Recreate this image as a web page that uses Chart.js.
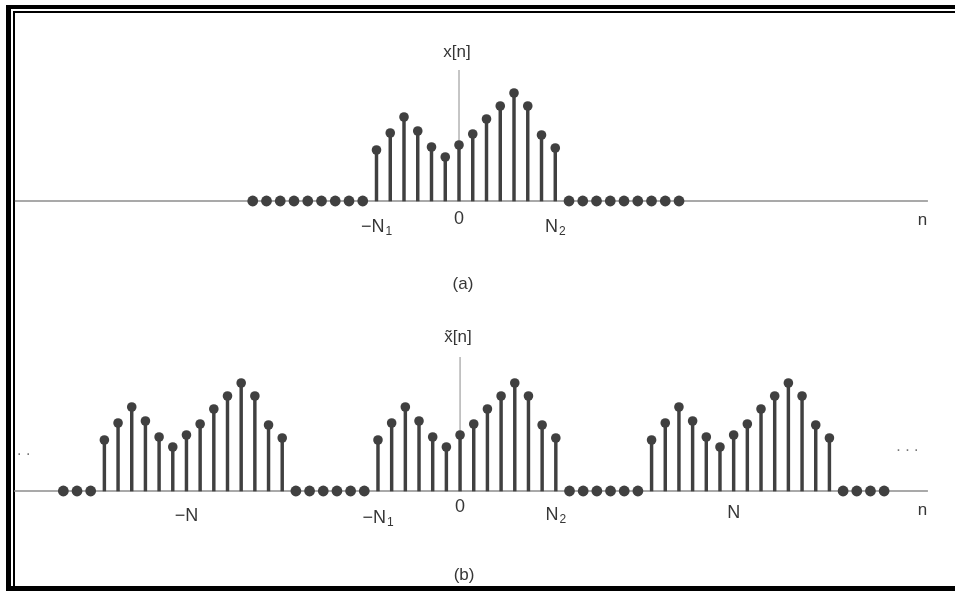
<!DOCTYPE html>
<html>
<head>
<meta charset="utf-8">
<script src="https://cdn.jsdelivr.net/npm/chart.js@4.4.1/dist/chart.umd.min.js"></script>
<style>
  html, body { margin: 0; padding: 0; background: #fff; overflow: hidden; }
  #page { position: relative; width: 955px; height: 593px; overflow: hidden; background: #fff; }
  #outer { position: absolute; left: 6px; top: 5px; width: 1000px; height: 586px; border-left: 5px solid #000; border-top: 4px solid #000; border-bottom: 5px solid #000; box-sizing: border-box; }
  #inner { position: absolute; left: 13px; top: 11px; width: 1000px; height: 578px; border-left: 2px solid #000; border-top: 2px solid #000; border-bottom: 2px solid #000; box-sizing: border-box; }
  canvas { position: absolute; left: 0; }
</style>
</head>
<body>
<div id="page">
  <div id="outer"></div>
  <div id="inner"></div>
  <canvas id="chartA" width="955" height="296" style="top:0px"></canvas>
  <canvas id="chartB" width="955" height="297" style="top:296px"></canvas>
</div>
<script>
// x[n] is nonzero from -N1 to N2
const N1 = 6;
const N2 = 7;
const period = 20;
const xValues = [5.1, 6.8, 8.4, 7.0, 5.4, 4.4, 5.6, 6.7, 8.2, 9.5, 10.8, 9.5, 6.6, 5.3];

// zero samples drawn as dots on the axis
const zerosA = [-15, -14, -13, -12, -11, -10, -9, -8, -7, 8, 9, 10, 11, 12, 13, 14, 15, 16];
const zerosB = [-29, -28, -27, -12, -11, -10, -9, -8, -7, 8, 9, 10, 11, 12, 13, 28, 29, 30, 31];
const copiesB = [-period, 0, period];

// tick labels (main text, subscript)
const ticksA = [-N1, 0, N2];
const tickTextA = ['\u2212N', '0', 'N'];
const tickSubA = ['1', '', '2'];
const ticksB = [-period, -N1, 0, N2, period];
const tickTextB = ['\u2212N', '\u2212N', '0', 'N', 'N'];
const tickSubB = ['', '1', '', '2', ''];

const stemColor = '#404040';
const axisColor = '#8c8c8c';
const textColor = '#363636';
const font = '"Liberation Sans", Arial, sans-serif';

function stemPoints(shifts){
    const pts = [];
    shifts.forEach(s => {
        xValues.forEach((v, i) => pts.push({x: -N1 + i + s, y: v}));
    });
    return pts;
}

const labelPlugin = {
    id: 'labels',
    afterDatasetsDraw(chart, args, o){
        const ctx = chart.ctx;
        const xs = chart.scales.x, ys = chart.scales.y;
        const y0 = ys.getPixelForValue(0);
        ctx.save();
        ctx.fillStyle = textColor;
        ctx.textBaseline = 'alphabetic';
        o.ticks.forEach((n, i) => {
            const main = o.text[i], sub = o.sub[i];
            ctx.font = '18px ' + font;
            const w1 = ctx.measureText(main).width;
            ctx.font = '12px ' + font;
            const w2 = sub ? ctx.measureText(sub).width + 1 : 0;
            const left = xs.getPixelForValue(n) - (w1 + w2) / 2;
            const by = y0 + o.drop[i];
            ctx.font = '18px ' + font;
            ctx.textAlign = 'left';
            ctx.fillText(main, left, by);
            if(sub){
                ctx.font = '12px ' + font;
                ctx.fillText(sub, left + w1 + 1, by + 3);
            }
        });
        // axis names and caption
        ctx.textAlign = 'center';
        ctx.font = '17px ' + font;
        ctx.fillText(o.yName, xs.getPixelForValue(0) - 2, ys.getPixelForValue(o.axisTop) - o.nameGap);
        ctx.fillText('n', xs.getPixelForValue(o.nAt), y0 + 24);
        ctx.fillText(o.caption, xs.getPixelForValue(0) + 4, chart.height - o.captionUp);
        if(o.dots){
            ctx.fillStyle = '#777';
            ctx.font = '16px ' + font;
            o.dots.forEach(d => ctx.fillText(d.t, xs.getPixelForValue(d.n), ys.getPixelForValue(d.v)));
        }
        ctx.restore();
    }
};

function makePanel(id, cfg){
    const stems = cfg.stems;
    return new Chart(document.getElementById(id), {
        type: 'bar',
        data: {
            datasets: [
                {
                    type: 'scatter',
                    data: stems,
                    pointRadius: 4.8,
                    pointBackgroundColor: stemColor,
                    pointBorderWidth: 0,
                    order: 1
                },
                {
                    type: 'scatter',
                    data: cfg.zeros.map(n => ({x: n, y: 0})),
                    pointRadius: 5.4,
                    pointBackgroundColor: stemColor,
                    pointBorderWidth: 0,
                    order: 2
                },
                {
                    type: 'bar',
                    data: stems,
                    barThickness: 2.8,
                    backgroundColor: stemColor,
                    order: 3
                },
                {
                    type: 'line',
                    data: [{x: cfg.axisFrom, y: 0}, {x: cfg.axisTo, y: 0}],
                    borderColor: axisColor,
                    borderWidth: 1.3,
                    pointRadius: 0,
                    order: 4
                },
                {
                    type: 'line',
                    data: [{x: 0, y: 0}, {x: 0, y: cfg.axisTop}],
                    borderColor: axisColor,
                    borderWidth: 1,
                    pointRadius: 0,
                    order: 5
                }
            ]
        },
        options: {
            responsive: false,
            animation: false,
            events: [],
            layout: { padding: 0, autoPadding: false },
            plugins: {
                legend: { display: false },
                tooltip: { enabled: false },
                labels: Object.assign({axisTop: cfg.axisTop}, cfg.labels)
            },
            scales: {
                x: { type: 'linear', min: cfg.xMin, max: cfg.xMax, offset: false, display: false },
                y: { type: 'linear', min: cfg.yMin, max: cfg.yMax, display: false }
            }
        },
        plugins: [labelPlugin]
    });
}

makePanel('chartA', {
    stems: stemPoints([0]),
    zeros: zerosA,
    xMin: -33.38, xMax: 36.07,
    yMin: -9.5, yMax: 20.1,
    axisFrom: -32.3, axisTo: 34.1, axisTop: 13.1,
    labels: {
        ticks: ticksA, text: tickTextA, sub: tickSubA,
        drop: [31, 23, 31],
        yName: 'x[n]', nameGap: 13, nAt: 33.7,
        caption: '(a)', captionUp: 7
    }
});

makePanel('chartB', {
    stems: stemPoints(copiesB),
    zeros: zerosB,
    xMin: -33.63, xMax: 36.18,
    yMin: -10.2, yMax: 19.5,
    axisFrom: -32.6, axisTo: 34.2, axisTop: 13.4,
    labels: {
        ticks: ticksB, text: tickTextB, sub: tickSubB,
        drop: [30, 32, 21, 29, 27],
        yName: 'x\u0303[n]', nameGap: 15, nAt: 33.8,
        caption: '(b)', captionUp: 13,
        dots: [{t: '. .', n: -31.9, v: 3.6}, {t: '. . .', n: 32.7, v: 4.0}]
    }
});
</script>
</body>
</html>
